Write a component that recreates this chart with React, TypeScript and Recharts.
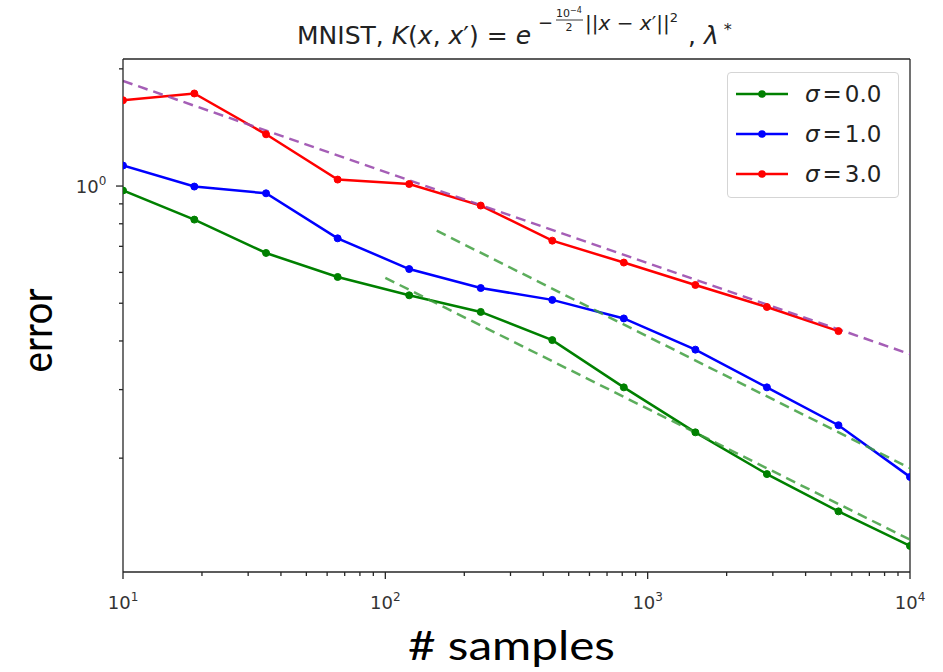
import React from "react";
import { LineChart, Line, XAxis, YAxis, Legend, ReferenceLine } from "recharts";

// ---- data ----
const SAMPLES = [10, 18.7, 35.1, 65.8, 123.3, 231.0, 432.9, 811.1, 1519.9, 2848.0, 5336.7, 10000];
const ERR_SIGMA0 = [0.974, 0.82, 0.673, 0.584, 0.524, 0.475, 0.402, 0.304, 0.233, 0.182, 0.146, 0.119];
const ERR_SIGMA1 = [1.129, 0.997, 0.958, 0.734, 0.612, 0.547, 0.51, 0.457, 0.38, 0.304, 0.243, 0.179];
const ERR_SIGMA3 = [1.661, 1.729, 1.358, 1.039, 1.012, 0.891, 0.724, 0.636, 0.557, 0.489, 0.424];
const SIGMA_LABELS = ["0.0", "1.0", "3.0"];

const FIT_PURPLE_X = [10, 10000];
const FIT_PURPLE_Y = [1.862, 0.37];
const FIT_GREEN_UPPER_X = [157, 10000];
const FIT_GREEN_UPPER_Y = [0.768, 0.1885];
const FIT_GREEN_LOWER_X = [100, 10000];
const FIT_GREEN_LOWER_Y = [0.581, 0.1235];

const X_MIN = 10;
const X_MAX = 10000;
const Y_MIN = 0.102;
const Y_MAX = 2.12;
const X_MAJOR = [10, 100, 1000, 10000];
const X_TICKS = [10, 20, 30, 40, 50, 60, 70, 80, 90, 100, 200, 300, 400, 500, 600, 700, 800, 900, 1000, 2000, 3000, 4000, 5000, 6000, 7000, 8000, 9000, 10000];
const Y_MAJOR = [1];
const Y_TICKS = [0.2, 0.3, 0.4, 0.5, 0.6, 0.7, 0.8, 0.9, 1, 2];

const toPoints = (xs: number[], ys: number[]) => ys.map((y, i) => ({ x: xs[i], y }));

const s0 = toPoints(SAMPLES, ERR_SIGMA0);
const s1 = toPoints(SAMPLES, ERR_SIGMA1);
const s3 = toPoints(SAMPLES, ERR_SIGMA3);
const fitPurple = toPoints(FIT_PURPLE_X, FIT_PURPLE_Y);
const fitGreenUpper = toPoints(FIT_GREEN_UPPER_X, FIT_GREEN_UPPER_Y);
const fitGreenLower = toPoints(FIT_GREEN_LOWER_X, FIT_GREEN_LOWER_Y);

const TICK_FONT = "'DejaVu Sans', sans-serif";
const LABEL_FONT = "Lato, 'Open Sans', sans-serif";
const AXIS_COLOR = "#262626";

const XTick = (props: any) => {
  const { x, y, payload } = props;
  const v = payload.value;
  const major = X_MAJOR.includes(v);
  const exp = Math.round(Math.log10(v));
  return (
    <g>
      <line x1={x} x2={x} y1={y} y2={y + (major ? 7 : 4)} stroke={AXIS_COLOR} strokeWidth={1.3} />
      {major && (
        <text x={x} y={y + 37} textAnchor="middle" fontFamily={TICK_FONT} fontSize={18} fill="#333">
          <tspan>10</tspan>
          <tspan dy={-8} fontSize={12}>{exp}</tspan>
        </text>
      )}
    </g>
  );
};

const YTick = (props: any) => {
  const { x, y, payload } = props;
  const v = payload.value;
  const major = Y_MAJOR.includes(v);
  const exp = Math.round(Math.log10(v));
  return (
    <g>
      <line x1={x - (major ? 7 : 4)} x2={x} y1={y} y2={y} stroke={AXIS_COLOR} strokeWidth={1.3} />
      {major && (
        <text x={x - 32} y={y + 7} textAnchor="middle" fontFamily={TICK_FONT} fontSize={18} fill="#333">
          <tspan>10</tspan>
          <tspan dy={-8} fontSize={12}>{exp}</tspan>
        </text>
      )}
    </g>
  );
};

const XTitle = (props: any) => {
  const vb = props.viewBox || {};
  return (
    <text
      x={vb.x + vb.width / 2 - 5}
      y={vb.y + 88}
      textAnchor="middle"
      fontFamily={LABEL_FONT}
      fontSize={40}
      textLength={207}
      lengthAdjust="spacingAndGlyphs"
      fill="#000"
    >
      # samples
    </text>
  );
};

const YTitle = (props: any) => {
  const vb = props.viewBox || {};
  const cx = vb.x + 36;
  const cy = vb.y + vb.height / 2 + 15;
  return (
    <text
      x={cx}
      y={cy}
      textAnchor="middle"
      dominantBaseline="central"
      transform={`rotate(-90 ${cx} ${cy})`}
      fontFamily={LABEL_FONT}
      fontSize={42}
      textLength={84}
      lengthAdjust="spacingAndGlyphs"
      fill="#000"
    >
      error
    </text>
  );
};

const LegendBox = (props: any) => {
  const items = (props.payload || []).filter((p: any) => p.type !== "none");
  return (
    <div
      style={{
        width: 172,
        height: 126,
        boxSizing: "border-box",
        border: "1px solid #d5d5d5",
        borderRadius: 4,
        background: "rgba(255,255,255,0.85)",
        position: "relative",
      }}
    >
      {items.map((p: any, i: number) => {
        const label = String(p.value).replace("σ =", "").trim();
        return (
          <div key={i} style={{ position: "absolute", left: 0, top: 7 + i * 40, height: 28, display: "flex", alignItems: "center" }}>
            <svg width={70} height={28}>
              <line x1={8} x2={60} y1={14} y2={14} stroke={p.color} strokeWidth={2.5} />
              <circle cx={34} cy={14} r={3.8} fill={p.color} />
            </svg>
            <span style={{ marginLeft: 7, fontFamily: TICK_FONT, fontSize: 23, color: "#222", whiteSpace: "nowrap" }}>
              <span style={{ fontStyle: "italic" }}>σ</span>
              <span style={{ margin: "0 3px" }}>=</span>
              {label}
            </span>
          </div>
        );
      })}
    </div>
  );
};

const Title = () => (
  <svg width={943} height={60} style={{ position: "absolute", left: 0, top: 0, pointerEvents: "none" }}>
    <text x={297} y={44} fontFamily={TICK_FONT} fontSize={25} fill="#222">
      <tspan>MNIST, </tspan>
      <tspan fontStyle="italic">K</tspan>
      <tspan>(</tspan>
      <tspan fontStyle="italic">x</tspan>
      <tspan>, </tspan>
      <tspan fontStyle="italic">x</tspan>
      <tspan>′) = </tspan>
      <tspan fontStyle="italic">e</tspan>
    </text>
    <text x={538} y={29} fontFamily={TICK_FONT} fontSize={18} fill="#222">−</text>
    <text x={569} y={17} textAnchor="middle" fontFamily={TICK_FONT} fontSize={11} fill="#222">
      10<tspan dy={-4} fontSize={8}>−4</tspan>
    </text>
    <line x1={556} x2={583} y1={20} y2={20} stroke="#222" strokeWidth={0.9} />
    <text x={569} y={31} textAnchor="middle" fontFamily={TICK_FONT} fontSize={11} fill="#222">2</text>
    <text x={585} y={30} fontFamily={TICK_FONT} fontSize={20} fill="#222">
      <tspan>||</tspan>
      <tspan fontStyle="italic">x</tspan>
      <tspan> − </tspan>
      <tspan fontStyle="italic">x</tspan>
      <tspan>′||</tspan>
      <tspan dy={-8} fontSize={13}>2</tspan>
    </text>
    <text x={688} y={44} fontFamily={TICK_FONT} fontSize={25} fill="#222">
      <tspan>, </tspan>
      <tspan fontStyle="italic">λ</tspan>
      <tspan dy={-9} fontSize={16}> *</tspan>
    </text>
  </svg>
);

export default function App() {
  return (
    <div style={{ position: "absolute", left: 0, top: 0, width: 943, height: 672, background: "#fff" }}>
      <LineChart width={943} height={672} margin={{ top: 59, right: 33, bottom: 0, left: 0 }}>
        <XAxis
          dataKey="x"
          type="number"
          scale="log"
          domain={[X_MIN, X_MAX]}
          allowDataOverflow
          ticks={X_TICKS}
          interval={0}
          tickLine={false}
          tickSize={0}
          tickMargin={0}
          tick={<XTick />}
          height={100}
          axisLine={{ stroke: AXIS_COLOR, strokeWidth: 1.3 }}
          label={<XTitle />}
        />
        <YAxis
          dataKey="y"
          type="number"
          scale="log"
          domain={[Y_MIN, Y_MAX]}
          allowDataOverflow
          ticks={Y_TICKS}
          interval={0}
          tickLine={false}
          tickSize={0}
          tickMargin={0}
          tick={<YTick />}
          width={123}
          axisLine={{ stroke: AXIS_COLOR, strokeWidth: 1.3 }}
          label={<YTitle />}
        />
        <ReferenceLine y={Y_MAX} stroke={AXIS_COLOR} strokeWidth={1.3} />
        <ReferenceLine x={X_MAX} stroke={AXIS_COLOR} strokeWidth={1.3} />
        <Legend
          layout="horizontal"
          verticalAlign="middle"
          align="center"
          content={<LegendBox />}
          wrapperStyle={{ left: 727, top: 72, width: 172, height: 126 }}
        />
        <Line data={s0} dataKey="y" name={`σ = ${SIGMA_LABELS[0]}`} stroke="#008000" strokeWidth={2.5} dot={{ r: 3.5, fill: "#008000", stroke: "#008000", strokeWidth: 1 }} isAnimationActive={false} />
        <Line data={s1} dataKey="y" name={`σ = ${SIGMA_LABELS[1]}`} stroke="#0000ff" strokeWidth={2.5} dot={{ r: 3.5, fill: "#0000ff", stroke: "#0000ff", strokeWidth: 1 }} isAnimationActive={false} />
        <Line data={s3} dataKey="y" name={`σ = ${SIGMA_LABELS[2]}`} stroke="#ff0000" strokeWidth={2.5} dot={{ r: 3.5, fill: "#ff0000", stroke: "#ff0000", strokeWidth: 1 }} isAnimationActive={false} />
        <Line data={fitPurple} dataKey="y" legendType="none" stroke="#9b4dae" strokeOpacity={0.9} strokeWidth={2.5} strokeDasharray="10 6" dot={false} isAnimationActive={false} />
        <Line data={fitGreenUpper} dataKey="y" legendType="none" stroke="#3f9f3f" strokeOpacity={0.85} strokeWidth={2.5} strokeDasharray="10 6" dot={false} isAnimationActive={false} />
        <Line data={fitGreenLower} dataKey="y" legendType="none" stroke="#3f9f3f" strokeOpacity={0.85} strokeWidth={2.5} strokeDasharray="10 6" dot={false} isAnimationActive={false} />
      </LineChart>
      <Title />
    </div>
  );
}
